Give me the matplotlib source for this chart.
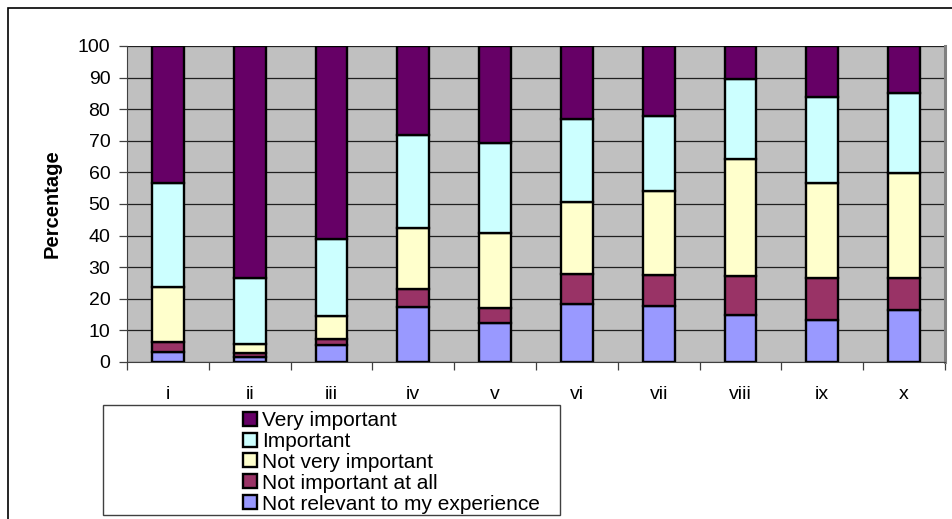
import numpy as np
import matplotlib
matplotlib.use("Agg")
import matplotlib.pyplot as plt
from matplotlib.patches import Patch, Rectangle
from matplotlib.ticker import FixedLocator, NullFormatter

plt.rcParams["font.family"] = ["Liberation Sans", "DejaVu Sans"]

# 各项目的回答百分比（自下而上堆叠）
items = ["i", "ii", "iii", "iv", "v", "vi", "vii", "viii", "ix", "x"]
not_relevant = [3.2, 1.6, 5.5, 17.4, 12.4, 18.5, 17.7, 15.0, 13.4, 16.4]
not_important_at_all = [3.1, 1.4, 1.9, 5.6, 4.8, 9.2, 9.8, 12.2, 13.3, 10.3]
not_very_important = [17.3, 2.8, 7.1, 19.3, 23.7, 22.8, 26.6, 37.0, 29.8, 33.0]
important = [33.1, 20.8, 24.3, 29.4, 28.3, 26.4, 23.7, 25.4, 27.4, 25.3]
very_important = [43.3, 73.4, 61.2, 28.3, 30.8, 23.1, 22.2, 10.4, 16.1, 15.0]

series = [
    ("Not relevant to my experience", not_relevant, "#9999FF"),
    ("Not important at all", not_important_at_all, "#993366"),
    ("Not very important", not_very_important, "#FFFFCC"),
    ("Important", important, "#CCFFFF"),
    ("Very important", very_important, "#660066"),
]

fig = plt.figure(figsize=(9.52, 5.19), dpi=100)
ax = fig.add_axes([127 / 952, 1 - 362 / 519, (945 - 127) / 952, (362 - 46) / 519])
ax.set_facecolor("#C0C0C0")

x = np.arange(len(items))
bottom = np.zeros(len(items))
for label, vals, color in series:
    vals = np.array(vals)
    ax.bar(x, vals, width=0.39, bottom=bottom, color=color,
           edgecolor="black", linewidth=1.7, label=label, zorder=3)
    bottom += vals

ax.set_xlim(-0.5, len(items) - 0.5)
ax.set_ylim(0, 100)
ax.set_yticks(np.arange(0, 101, 10))
ax.yaxis.grid(True, color="#202020", linewidth=0.9, zorder=1)
ax.set_axisbelow(True)

# 分类边界刻度 + 居中的分类标签
ax.xaxis.set_major_locator(FixedLocator(np.arange(-0.5, len(items), 1.0)))
ax.xaxis.set_major_formatter(NullFormatter())
ax.xaxis.set_minor_locator(FixedLocator(x))
ax.set_xticklabels(items, minor=True)
ax.tick_params(axis="x", which="major", length=6, width=0.9, color="#404040")
ax.tick_params(axis="x", which="minor", length=0, pad=17, labelsize=14)
ax.tick_params(axis="y", length=6, width=0.9, color="#404040", pad=6, labelsize=14)

ax.spines["top"].set_visible(False)
ax.spines["left"].set_color("#404040")
ax.spines["bottom"].set_color("#404040")
ax.spines["right"].set_color("#808080")
ax.spines["right"].set_linewidth(2.2)

ax.set_ylabel("Percentage", fontsize=14.5, fontweight="bold")
ax.yaxis.set_label_coords(-(127 - 62) / 818, 0.5)

# 图例外框
fig.patches.append(Rectangle((103 / 952, 1 - 515 / 519), (560 - 103) / 952, (515 - 405) / 519,
                             transform=fig.transFigure, facecolor="white",
                             edgecolor="#404040", linewidth=1.0))
# 整体外框
fig.patches.append(Rectangle((8 / 952, -0.2), 1.2, 1.2 - 8 / 519,
                             transform=fig.transFigure, facecolor="none",
                             edgecolor="black", linewidth=1.2))

handles = [Patch(facecolor=c, edgecolor="black", linewidth=1.7, label=l)
           for l, _, c in reversed(series)]
leg = fig.legend(handles=handles, loc="upper left",
                 bbox_to_anchor=(243 / 952, 1 - 411 / 519),
                 frameon=False, fontsize=15, handlelength=0.66, handleheight=0.66,
                 handletextpad=0.25, labelspacing=0.09, borderpad=0, borderaxespad=0)

fig.savefig("out.png", dpi=100)
